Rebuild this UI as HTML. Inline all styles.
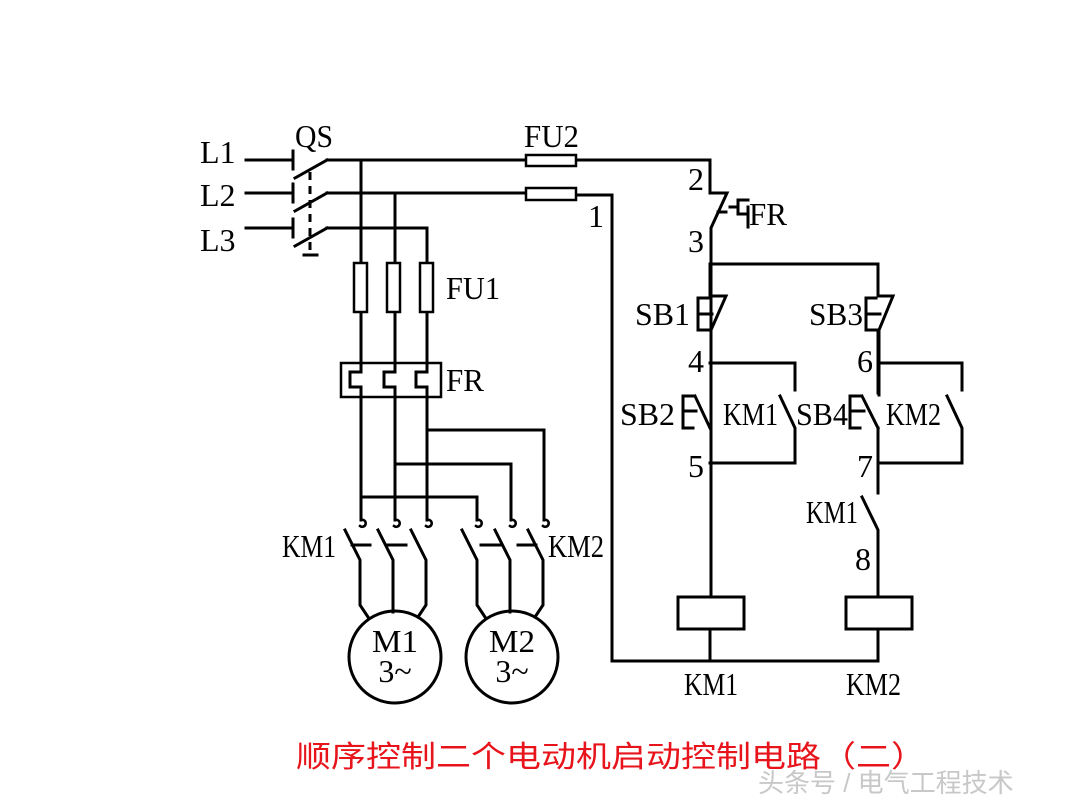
<!DOCTYPE html>
<html><head><meta charset="utf-8"><style>
html,body{margin:0;padding:0;background:#fff;}
svg{display:block}
text{font-family:"Liberation Serif","Noto Serif CJK SC",serif;font-size:32px;fill:#000}
</style></head><body>
<svg width="1080" height="810" viewBox="0 0 1080 810" xmlns="http://www.w3.org/2000/svg">
<g stroke="#000" stroke-width="3" fill="none" stroke-linecap="square">
<line x1="246" y1="160" x2="292" y2="160"/><line x1="293" y1="151" x2="293" y2="169"/>
<line x1="246" y1="193" x2="292" y2="193"/><line x1="293" y1="184" x2="293" y2="202"/>
<line x1="246" y1="228" x2="292" y2="228"/><line x1="293" y1="219" x2="293" y2="237"/>
<line x1="295" y1="178" x2="327" y2="160"/>
<line x1="295" y1="211" x2="327" y2="193"/>
<line x1="295" y1="246" x2="327" y2="228"/>
<line x1="310" y1="172" x2="310" y2="254" stroke-dasharray="8,6" stroke-linecap="butt"/>
<line x1="304" y1="255" x2="317" y2="255"/>
<line x1="327" y1="160" x2="710" y2="160"/>
<line x1="327" y1="193" x2="525" y2="193"/>
<line x1="577" y1="195" x2="612" y2="195"/>
<line x1="612" y1="195" x2="612" y2="661"/>
<line x1="612" y1="661" x2="878" y2="661"/>
<line x1="327" y1="228" x2="427" y2="228"/>
<rect x="526" y="155" width="50" height="11" stroke-width="2.5" fill="#fff"/>
<rect x="526" y="188" width="50" height="12" stroke-width="2.5" fill="#fff"/>
<line x1="361" y1="160" x2="361" y2="363"/>
<line x1="395" y1="193" x2="395" y2="363"/>
<line x1="427" y1="228" x2="427" y2="363"/>
<line x1="361" y1="397" x2="361" y2="520"/>
<line x1="395" y1="397" x2="395" y2="520"/>
<line x1="427" y1="397" x2="427" y2="520"/>
<rect x="354" y="263" width="13" height="49" fill="#fff" stroke-width="2.5"/>
<rect x="387" y="263" width="13" height="49" fill="#fff" stroke-width="2.5"/>
<rect x="420" y="263" width="13" height="49" fill="#fff" stroke-width="2.5"/>
<rect x="341" y="363" width="100" height="34" stroke-width="2.5"/>
<path d="M361 363 V372 H350 V387 H361 V397"/>
<path d="M395 363 V372 H384 V387 H395 V397"/>
<path d="M427 363 V372 H416 V387 H427 V397"/>
<path d="M361 497 H477 V520"/>
<path d="M395 464 H511 V520"/>
<path d="M427 430 H544 V520"/>
<g stroke-width="2.5">
<path d="M361 520 a3.5 3.5 0 1 1 -1 6"/>
<path d="M395 520 a3.5 3.5 0 1 1 -1 6"/>
<path d="M427 520 a3.5 3.5 0 1 1 -1 6"/>
<path d="M477 520 a3.5 3.5 0 1 1 -1 6"/>
<path d="M511 520 a3.5 3.5 0 1 1 -1 6"/>
<path d="M544 520 a3.5 3.5 0 1 1 -1 6"/>
</g>
<path d="M345 530 L360 560 V605 L368 617"/>
<path d="M378 530 L393 560 V612"/>
<path d="M411 530 L426 560 V605 L418 617"/>
<path d="M462 530 L477 560 V605 L485 617"/>
<path d="M495 530 L510 560 V612"/>
<path d="M528 530 L543 560 V605 L535 617"/>
<line x1="352" y1="545" x2="370" y2="545"/><line x1="386" y1="545" x2="406" y2="545"/>
<line x1="481" y1="545" x2="500" y2="545"/><line x1="518" y1="545" x2="536" y2="545"/>
<circle cx="395" cy="657" r="46"/>
<circle cx="512" cy="657" r="46"/>
<path d="M710 160 V193 H727 L711 228 V597"/>
<line x1="718" y1="212" x2="726" y2="212"/>
<path d="M748 200 H738 V214 H748 M748 207 V227 M738 207 H730"/>
<line x1="710" y1="264" x2="878" y2="264"/>
<line x1="878" y1="264" x2="878" y2="296"/>
<path d="M710 264 V296 H726 L711 330"/>
<path d="M708 298 H698 V330 H708 M698 314 H712"/>
<path d="M878 296 H893 L879 330 V395"/>
<path d="M876 298 H866 V330 H876 M866 314 H880"/>
<path d="M710 363 H795 V390"/>
<path d="M878 363 H962 V390"/>
<path d="M695 396 L710 428"/><path d="M693 396 H683 V428 H693 M683 411 H696"/>
<path d="M780 396 L795 428 V463 H710"/>
<path d="M862 396 L878 428"/><path d="M860 396 H850 V428 H860 M850 411 H864"/>
<path d="M947 396 L962 428 V463 H878"/>
<line x1="878" y1="330" x2="878" y2="393"/>
<line x1="878" y1="428" x2="878" y2="493"/>
<path d="M862 497 L878 530 V597"/>
<rect x="678" y="597" width="66" height="32"/>
<rect x="846" y="597" width="66" height="32"/>
<line x1="710" y1="629" x2="710" y2="661"/>
<line x1="878" y1="629" x2="878" y2="661"/>
</g>
<g>
<text x="200" y="163">L1</text><text x="200" y="206">L2</text><text x="200" y="251">L3</text>
<text x="295" y="147" textLength="38" lengthAdjust="spacingAndGlyphs">QS</text>
<text x="524" y="147" textLength="55" lengthAdjust="spacingAndGlyphs">FU2</text>
<text x="588" y="227">1</text>
<text x="446" y="299" textLength="54" lengthAdjust="spacingAndGlyphs">FU1</text>
<text x="446" y="391" textLength="38" lengthAdjust="spacingAndGlyphs">FR</text>
<text x="282" y="557" textLength="54" lengthAdjust="spacingAndGlyphs">KM1</text>
<text x="548" y="557" textLength="56" lengthAdjust="spacingAndGlyphs">KM2</text>
<text x="395" y="652" text-anchor="middle" font-size="38" textLength="46" lengthAdjust="spacingAndGlyphs">M1</text>
<text x="395" y="682" text-anchor="middle" font-size="34">3~</text>
<text x="512" y="652" text-anchor="middle" font-size="38" textLength="46" lengthAdjust="spacingAndGlyphs">M2</text>
<text x="512" y="682" text-anchor="middle" font-size="34">3~</text>
<text x="688" y="190">2</text>
<text x="749" y="225" textLength="38" lengthAdjust="spacingAndGlyphs">FR</text>
<text x="688" y="252">3</text>
<text x="635" y="325" textLength="55" lengthAdjust="spacingAndGlyphs">SB1</text>
<text x="809" y="325" textLength="54" lengthAdjust="spacingAndGlyphs">SB3</text>
<text x="688" y="372">4</text>
<text x="857" y="372">6</text>
<text x="620" y="425" textLength="55" lengthAdjust="spacingAndGlyphs">SB2</text>
<text x="723" y="425" textLength="55" lengthAdjust="spacingAndGlyphs">KM1</text>
<text x="796" y="425" textLength="52" lengthAdjust="spacingAndGlyphs">SB4</text>
<text x="886" y="425" textLength="55" lengthAdjust="spacingAndGlyphs">KM2</text>
<text x="688" y="477">5</text>
<text x="857" y="477">7</text>
<text x="806" y="523" textLength="52" lengthAdjust="spacingAndGlyphs">KM1</text>
<text x="855" y="570">8</text>
<text x="684" y="695" textLength="54" lengthAdjust="spacingAndGlyphs">KM1</text>
<text x="846" y="695" textLength="55" lengthAdjust="spacingAndGlyphs">KM2</text>
<text x="296" y="767" style="font-family:'Liberation Sans','Noto Sans CJK SC',sans-serif;font-size:30px;fill:#e8141c" textLength="630" lengthAdjust="spacingAndGlyphs">顺序控制二个电动机启动控制电路（二）</text>
<text x="758" y="792" style="font-family:'Liberation Sans','Noto Sans CJK SC',sans-serif;font-size:26px;fill:#c8c8c8">头条号 / 电气工程技术</text>
</g>
</svg>
</body></html>
